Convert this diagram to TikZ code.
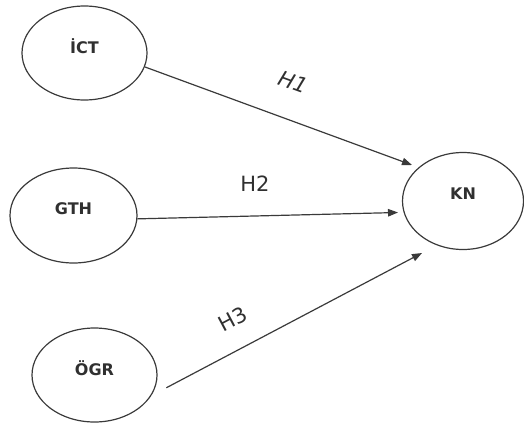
\documentclass[tikz,border=0pt]{standalone}
\usepackage{fontspec}
\setmainfont{DejaVu Sans}
\usetikzlibrary{arrows.meta,shapes.geometric}
\definecolor{ink}{HTML}{3A3A3A}
\definecolor{txt}{HTML}{303030}
\tikzset{
  construct/.style={ellipse, draw=ink, line width=1.2pt, inner sep=0pt},
  vname/.style={text=txt, font=\fontsize{16pt}{18pt}\selectfont\bfseries, inner sep=0pt},
  path/.style={draw=ink, line width=1.2pt, -{Triangle[length=10pt,width=7.5pt]}},
  hyp/.style={text=txt, font=\fontsize{21pt}{24pt}\selectfont, inner sep=0pt}
}
\begin{document}
\begin{tikzpicture}[x=1pt,y=-1pt]
  \useasboundingbox (0,0) rectangle (524,423);

  % latent constructs
  \node[construct, minimum width=125pt, minimum height=94pt] (ict) at (84.5,53) {};
  \node[construct, minimum width=127pt, minimum height=95pt] (gth) at (73.5,215.5) {};
  \node[construct, minimum width=125pt, minimum height=94pt] (ogr) at (94.5,375) {};
  \node[construct, minimum width=121pt, minimum height=97pt] (kn) at (463,201) {};

  \node[vname] (ictl) at ([yshift=7pt]ict.center) {İCT};
  \node[vname] (gthl) at ([yshift=7pt]gth.center) {GTH};
  \node[vname] (ogrl) at ([yshift=7pt]ogr.center) {ÖGR};
  \node[vname] (knl)  at ([yshift=7pt]kn.center) {KN};

  % arrow tips stop short of the outcome construct
  \coordinate (t1) at (412,165);
  \coordinate (t2) at (398,212.5);
  \coordinate (t3) at (422,253);

  \draw[path] (ict.-13) -- (t1);
  \draw[path] (gth.-3) -- (t2);
  \draw[path, shorten <=17pt] (ogr.-20) -- (t3);

  % hypothesis labels
  \node[hyp, rotate=-20] (h1) at (293,82) {\itshape H1};
  \node[hyp] (h2) at (255,184) {H2};
  \node[hyp, rotate=28] (h3) at (233,319) {H3};
\end{tikzpicture}
\end{document}
